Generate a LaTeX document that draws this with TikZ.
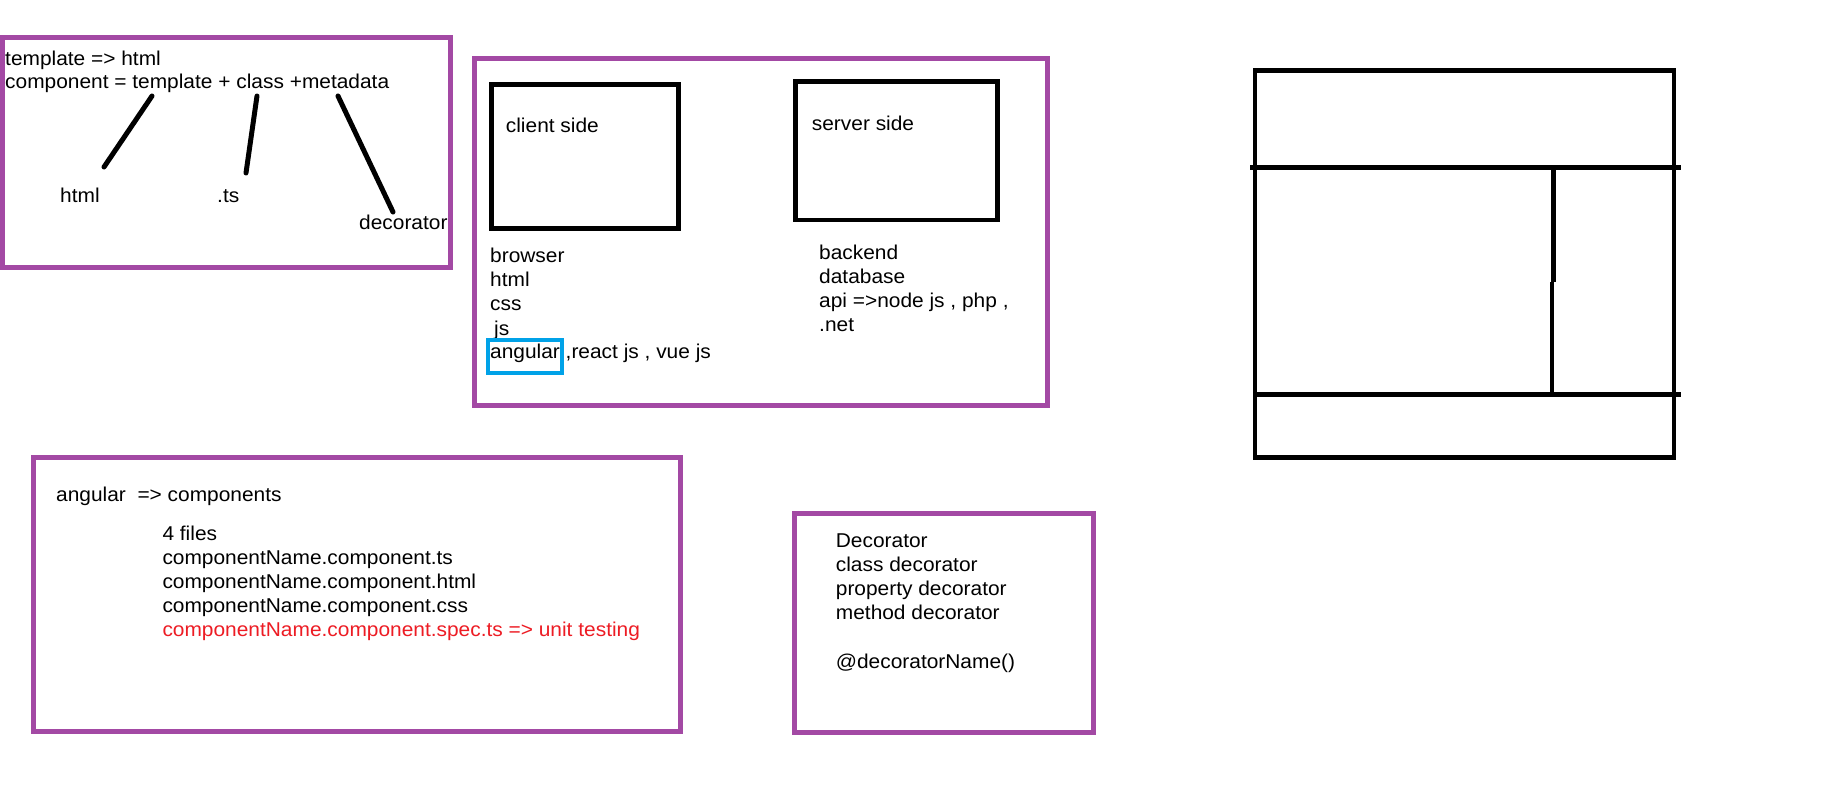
\documentclass[tikz,border=0pt]{standalone}
\usepackage{fontspec}
\setmainfont[FakeStretch=1.045]{Liberation Sans}
\definecolor{ppurple}{RGB}{163,73,164}
\definecolor{pblue}{RGB}{0,162,232}
\definecolor{pred}{RGB}{237,28,36}
\begin{document}
\begin{tikzpicture}[x=1pt,y=-1pt,
  txt/.style={anchor=base west,inner sep=0pt,font=\fontsize{20}{24}\selectfont},
  frame/.style={draw=ppurple,line width=5pt},
  blk/.style={draw=black,line width=4.7pt},
  stroke/.style={draw=black,line width=5pt,line cap=round},
  paint/.style={draw=black,line width=4.5pt}]
\useasboundingbox (0,0) rectangle (1834,811);
\fill[white] (0,0) rectangle (1834,811);

% ---- box 1
\draw[frame] (2.5,37.5) rectangle (450.8,267.5);
\node[txt] (t1) at (5,65) {template => html};
\node[txt] (t2) at (5,88) {component = template + class +metadata};
\node[txt] (h) at (60,202) {html};
\node[txt] (ts) at (217,202) {.ts};
\node[txt] (dec) at (359,229) {decorator};
\coordinate (a1) at (152,96);  \coordinate (b1) at (104,167);
\coordinate (a2) at (257,96);  \coordinate (b2) at (246,173);
\coordinate (a3) at (338,96);  \coordinate (b3) at (393,212);
\draw[stroke] (a1) -- (b1);
\draw[stroke] (a2) -- (b2);
\draw[stroke] (a3) -- (b3);

% ---- box 2
\draw[frame] (474.3,58.3) rectangle (1047.3,405.3);
\draw[blk] (491.7,84.7) rectangle (678.7,228.3);
\draw[blk] (795.7,81.7) rectangle (997.3,220);
\node[txt] (cs) at (505.7,132.7) {client side};
\node[txt] (ss) at (811.7,130.7) {server side};
\node[txt] (c1) at (490,262.7) {browser};
\node[txt] (c2) at (490,286.7) {html};
\node[txt] (c3) at (490,310.7) {css};
\node[txt] (c4) at (494,335) {js};
\node[txt] (c5) at (490,358.7) {angular ,react js , vue js};
\draw[pblue,line width=4pt] (487.7,340) rectangle (562,373.3);
\node[txt] (s1) at (819,259.3) {backend};
\node[txt] (s2) at (819,283.3) {database};
\node[txt] (s3) at (819,307.3) {api =>node js , php ,};
\node[txt] (s4) at (819,331.7) {.net};

% ---- box 3
\draw[frame] (33.3,457.3) rectangle (680.7,731);
\node[txt] (ang) at (56,501.7) {angular\ \ => components};
\node[txt] (f0) at (162.3,540.7) {4 files};
\node[txt] (f1) at (162.3,564.7) {componentName.component.ts};
\node[txt] (f2) at (162.3,588.7) {componentName.component.html};
\node[txt] (f3) at (162.3,612.7) {componentName.component.css};
\node[txt,text=pred] (f4) at (162.3,636.7) {componentName.component.spec.ts => unit testing};

% ---- box 4
\draw[frame] (794.7,513.3) rectangle (1093.3,732.7);
\node[txt] (d1) at (835.7,547.7) {Decorator};
\node[txt] (d2) at (835.7,571.7) {class decorator};
\node[txt] (d3) at (835.7,595.7) {property decorator};
\node[txt] (d4) at (835.7,619.7) {method decorator};
\node[txt] (d5) at (835.7,668.3) {@decoratorName()};

% ---- layout sketch
\draw[paint] (1255,70.7) rectangle (1674,457.7);
\draw[paint] (1250,167.3) -- (1680.7,167.3);
\draw[paint] (1255,394.3) -- (1680.7,394.3);
\draw[paint] (1553.3,167.3) -- (1553.3,281.7);
\draw[paint] (1552,281.7) -- (1552,394.3);
\end{tikzpicture}
\end{document}
